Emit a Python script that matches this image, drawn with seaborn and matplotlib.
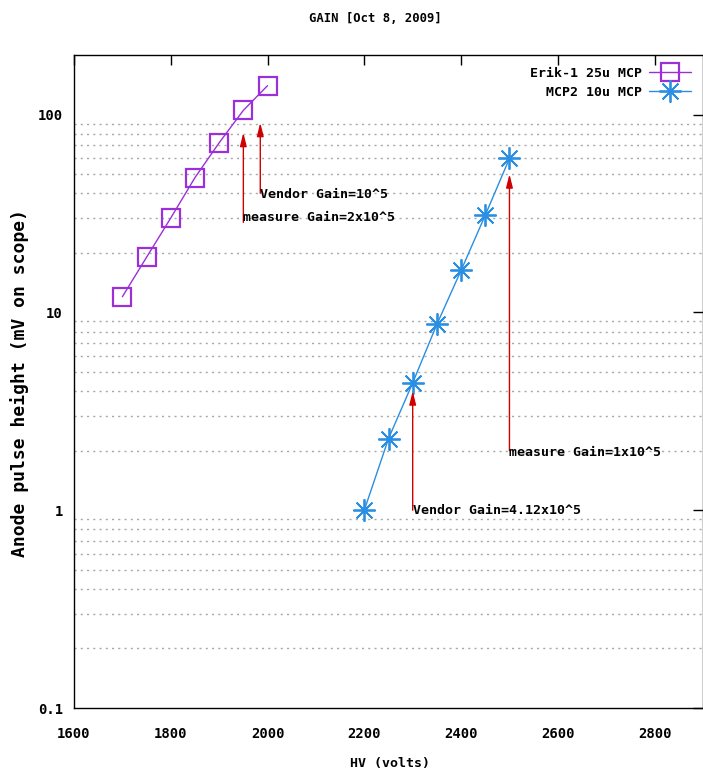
import matplotlib
matplotlib.use("Agg")
import matplotlib.pyplot as plt
import matplotlib.ticker as mticker
import pandas as pd
import seaborn as sns

# Gain curves: anode pulse height vs HV for two MCPs
erik_hv = [1700, 1750, 1800, 1850, 1900, 1950, 2000]
erik_mv = [12, 19, 30, 48, 72, 105, 140]
mcp2_hv = [2200, 2250, 2300, 2350, 2400, 2450, 2500]
mcp2_mv = [1.0, 2.3, 4.4, 8.7, 16.3, 31, 60]
series_names = ["Erik-1 25u MCP", "MCP2 10u MCP"]

# Gain annotations (x position, arrow tail, arrow head, text, text height)
note_x = [1950, 1985, 2300, 2500]
note_lo = [28.5, 40, 1.0, 2.0]
note_hi = [81, 91, 4.0, 50]
note_text = ["measure Gain=2x10^5", "Vendor Gain=10^5",
             "Vendor Gain=4.12x10^5", "measure Gain=1x10^5"]
note_y = [30.2, 39.4, 1.0, 1.96]

x_ticks = [1600, 1800, 2000, 2200, 2400, 2600, 2800]
y_ticks = [0.1, 1, 10, 100]
y_tick_labels = ["0.1", "1", "10", "100"]

sns.set_style("white")
plt.rcParams["font.family"] = ["DejaVu Sans Mono"]
plt.rcParams["font.weight"] = "bold"
plt.rcParams["text.color"] = "black"
plt.rcParams["xtick.color"] = "black"
plt.rcParams["ytick.color"] = "black"

FS = 9.5
W, H = 703, 773
fig = plt.figure(figsize=(W / 100, H / 100), dpi=100)
ax = fig.add_axes([74 / W, 1 - 708 / H, (W - 74) / W, (708 - 55) / H])

df = pd.concat([
    pd.DataFrame({"HV": erik_hv, "mV": erik_mv, "series": series_names[0]}),
    pd.DataFrame({"HV": mcp2_hv, "mV": mcp2_mv, "series": series_names[1]}),
])

purple = "#9b30d8"
blue = "#2a8ee2"

sns.lineplot(data=df[df.series == series_names[0]], x="HV", y="mV", ax=ax,
             color=purple, lw=1, marker="s", markersize=13,
             markerfacecolor="none", markeredgecolor=purple, markeredgewidth=1.6,
             label=series_names[0])
sns.lineplot(data=df[df.series == series_names[1]], x="HV", y="mV", ax=ax,
             color=blue, lw=1, marker=(8, 2, 0), markersize=16,
             markeredgecolor=blue, markeredgewidth=1.3,
             label=series_names[1])

ax.set_yscale("log")
ax.set_xlim(1600, 2900)
ax.set_ylim(0.1, 200)

# dotted grid at the minor decades only
for dec in [0.1, 1, 10, 100]:
    for m in range(2, 10):
        v = dec * m
        if v < 200:
            ax.axhline(v, color="#a8a8a8", lw=1, ls=(0, (1.5, 3)), zorder=0)

for xi, lo, hi, txt, ty in zip(note_x, note_lo, note_hi, note_text, note_y):
    ax.annotate("", xy=(xi, hi), xytext=(xi, lo),
                arrowprops=dict(arrowstyle="-|>,head_length=0.8,head_width=0.2",
                                color="#d00000", lw=1, shrinkA=0, shrinkB=0))
    ax.text(xi, ty, txt, fontsize=FS, ha="left", va="center", color="black")

ax.set_xticks(x_ticks)
ax.set_xticklabels([str(t) for t in x_ticks])
ax.yaxis.set_major_locator(mticker.FixedLocator(y_ticks))
ax.yaxis.set_minor_locator(mticker.NullLocator())
ax.set_yticklabels(y_tick_labels)
ax.tick_params(axis="both", which="major", direction="in", length=7, width=1,
               labelsize=10, top=True, right=True, color="black",
               labelcolor="black")
ax.tick_params(axis="x", pad=14)
ax.tick_params(axis="y", pad=8)
for sp in ax.spines.values():
    sp.set_color("black")
    sp.set_linewidth(1)

ax.set_xlabel("")
ax.set_ylabel("")
fig.text(390 / W, 1 - 763 / H, "HV (volts)", ha="center", va="center",
         fontsize=FS, color="black")
fig.text(20 / W, 1 - 383 / H, "Anode pulse height (mV on scope)", ha="center",
         va="center", rotation=90, fontsize=13, color="black")
fig.text(375 / W, 1 - 18 / H, "GAIN [Oct 8, 2009]", ha="center", va="center",
         fontsize=8.8, color="black")

leg = ax.legend(loc="upper right", bbox_to_anchor=(1.0, 1.0), frameon=False,
                markerfirst=False, fontsize=FS, handlelength=3.2,
                labelspacing=0.45, handletextpad=0.5)
for t in leg.get_texts():
    t.set_color("black")

fig.savefig("out.png", dpi=100)
